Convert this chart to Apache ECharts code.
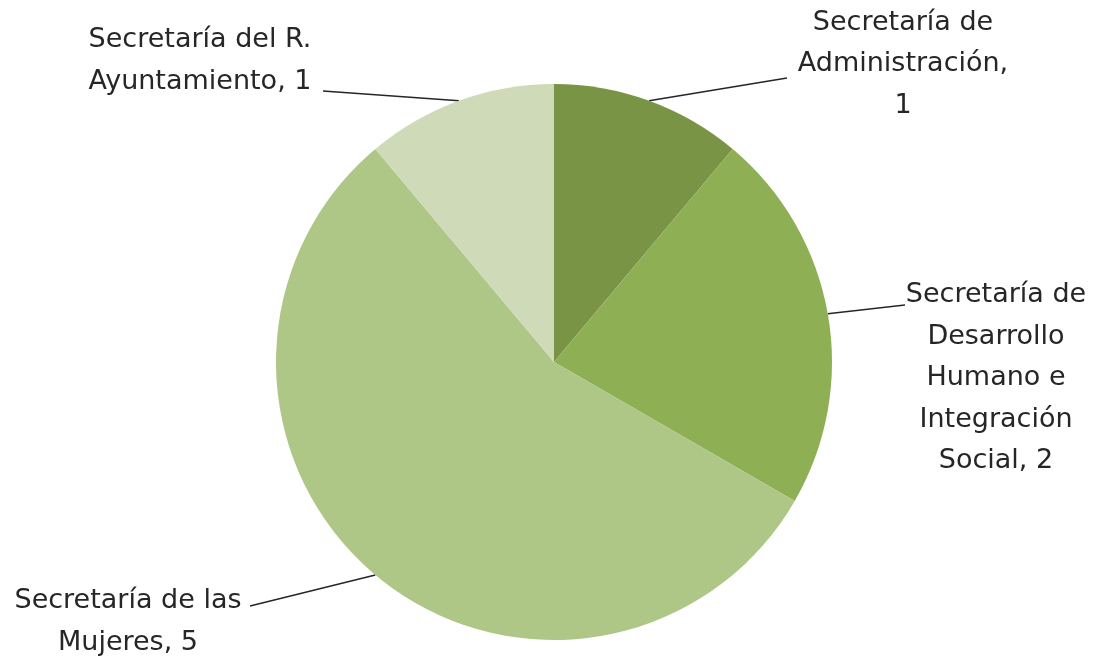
<!DOCTYPE html>
<html>
<head>
<meta charset="utf-8">
<script src="https://cdn.jsdelivr.net/npm/echarts@6/dist/echarts.min.js"></script>
<style>
  html, body { margin: 0; padding: 0; background: #fff; }
  #chart { width: 1101px; height: 657px; }
</style>
</head>
<body>
<div id="chart"></div>
<script>
  // categories as printed on the chart (line breaks included)
  const categories = [
    'Secretaría de\nAdministración',
    'Secretaría de\nDesarrollo\nHumano e\nIntegración\nSocial',
    'Secretaría de las\nMujeres',
    'Secretaría del R.\nAyuntamiento'
  ];
  const values = [1, 2, 5, 1];
  const colors = ['#7a9445', '#8faf55', '#aec786', '#cfdbb8'];

  // where each label block sits (centre) and where its leader line ends
  const labelSpots = [
    [903, 64],
    [996, 378],
    [128, 622],
    [200, 61]
  ];
  const lineEnds = [
    [787, 78],
    [905, 305],
    [250, 606],
    [323, 91]
  ];

  const chart = echarts.init(document.getElementById('chart'));

  chart.setOption({
    animation: false,
    series: [{
      type: 'pie',
      center: [554, 362],
      radius: 278,
      startAngle: 90,
      clockwise: true,
      data: categories.map((name, i) => ({
        name: name,
        value: values[i],
        itemStyle: { color: colors[i] }
      })),
      itemStyle: { borderWidth: 0 },
      label: {
        show: true,
        position: 'outside',
        fontFamily: 'DejaVu Sans',
        fontSize: 27,
        lineHeight: 41.5,
        color: '#262626',
        align: 'center',
        formatter: (p) => p.name + ',' + (p.dataIndex === 0 ? '\n' : ' ') + p.value
      },
      labelLine: {
        show: true,
        length: 20,
        length2: 20,
        lineStyle: { color: '#262626', width: 1.5 }
      },
      labelLayout: (params) => {
        const i = params.dataIndex;
        const spot = labelSpots[i];
        const start = params.labelLinePoints[0];
        return {
          x: spot[0],
          y: spot[1],
          align: 'center',
          verticalAlign: 'middle',
          labelLinePoints: [start, lineEnds[i], lineEnds[i]]
        };
      },
      emphasis: { disabled: true }
    }]
  });
</script>
</body>
</html>
